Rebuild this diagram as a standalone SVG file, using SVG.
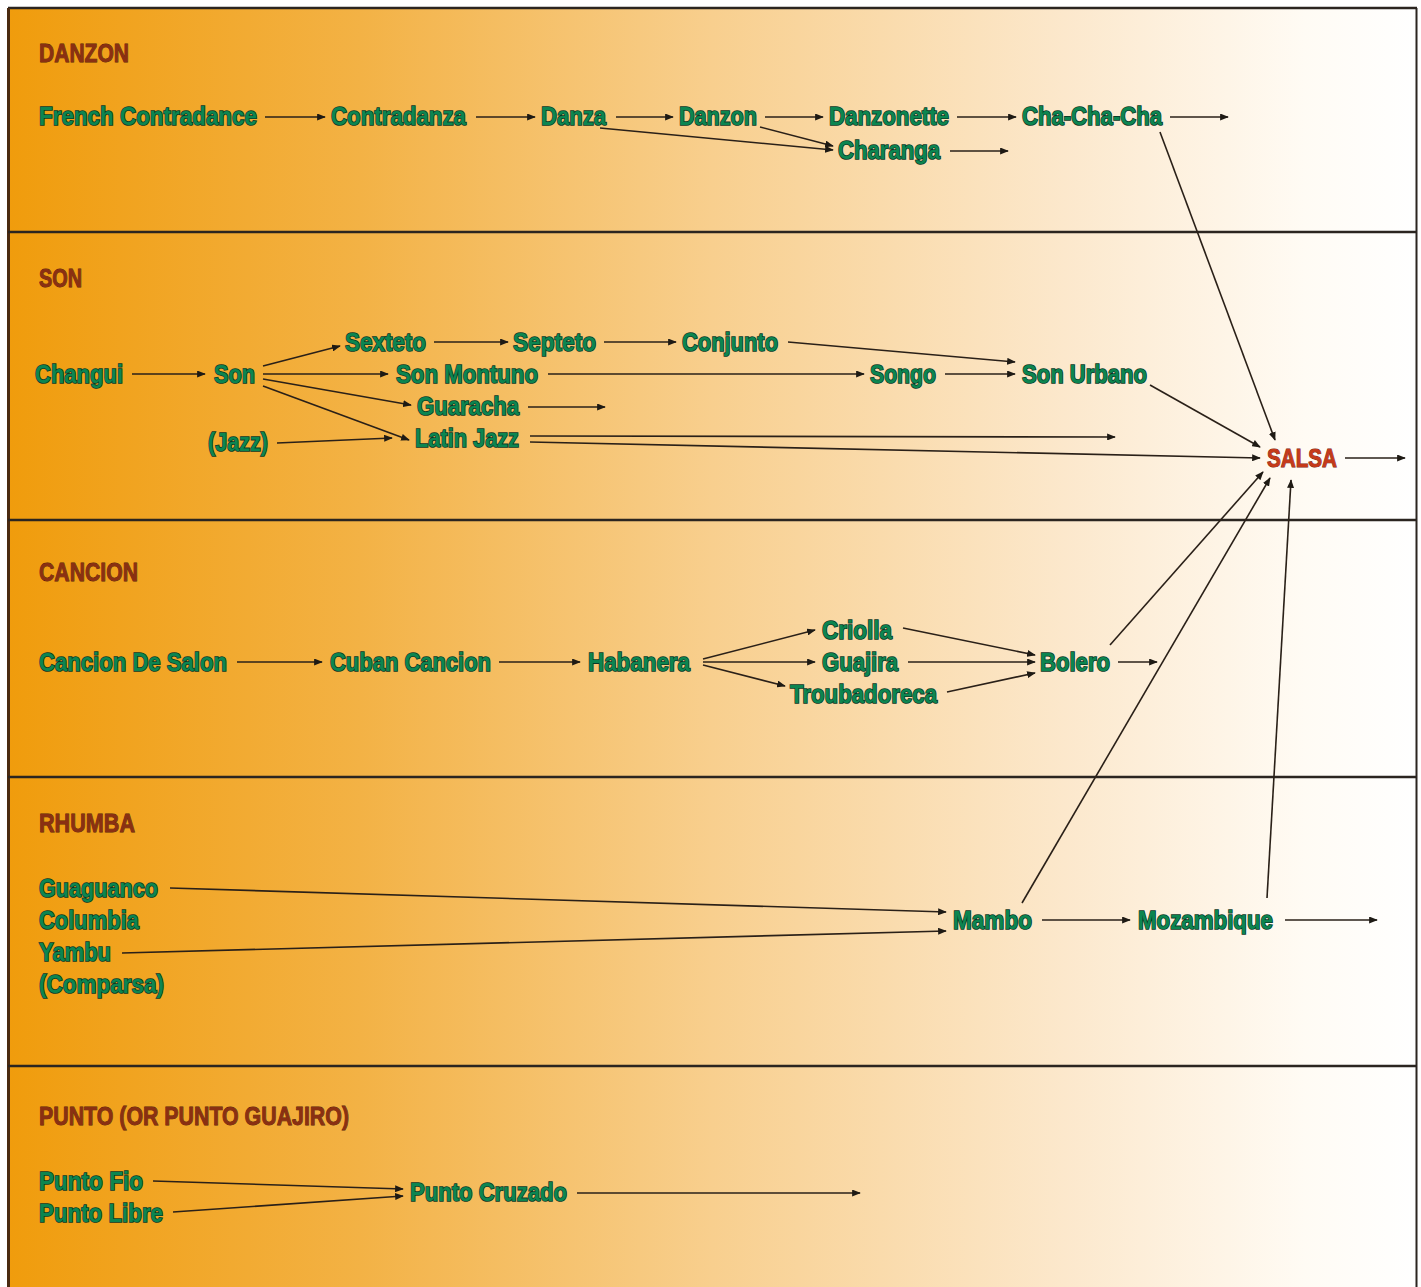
<svg xmlns="http://www.w3.org/2000/svg" width="1421" height="1287" viewBox="0 0 1421 1287">
<defs>
<linearGradient id="bg" x1="0" y1="0" x2="1" y2="0">
<stop offset="0" stop-color="#F09C0C"/>
<stop offset="0.25" stop-color="#F3B245"/>
<stop offset="0.5" stop-color="#F8CF8E"/>
<stop offset="0.75" stop-color="#FCE8CC"/>
<stop offset="0.92" stop-color="#FFFBF4"/>
<stop offset="1" stop-color="#FFFFFF"/>
</linearGradient>
<marker id="ah" viewBox="0 0 10 8" refX="9" refY="4" markerWidth="9" markerHeight="7" markerUnits="userSpaceOnUse" orient="auto">
<path d="M0,0 L10,4 L0,8 z" fill="#1e1a14"/>
</marker>
<style>
.n{font-family:"Liberation Sans","Arial",sans-serif;font-weight:bold;font-size:26px;fill:#0C8550;stroke:#0A3826;stroke-width:1.6px;paint-order:stroke;}
.h{font-family:"Liberation Sans","Arial",sans-serif;font-weight:bold;font-size:25px;fill:#8A3012;stroke:#561c08;stroke-width:0.8px;paint-order:stroke;}
.s{font-family:"Liberation Sans","Arial",sans-serif;font-weight:bold;font-size:26px;fill:#C53A1A;stroke:#7a2410;stroke-width:1px;paint-order:stroke;}
.c{fill:none;stroke:#2a2018;stroke-width:1.6;marker-end:url(#ah);}
.sep{stroke:#2b2520;stroke-width:2.5;}
</style>
</defs>
<rect x="0" y="0" width="1421" height="1287" fill="#FFFFFF"/>
<rect x="8" y="8" width="1409" height="1279" fill="url(#bg)"/>
<g id="frame">
<line x1="8" y1="8" x2="1417" y2="8" stroke="#2b2520" stroke-width="2.5"/>
<line x1="8.5" y1="8" x2="8.5" y2="1287" stroke="#4a2a10" stroke-width="3"/>
<line x1="1416.5" y1="8" x2="1416.5" y2="1287" stroke="#2b2520" stroke-width="2"/>
<line class="sep" x1="8" y1="232" x2="1417" y2="232"/>
<line class="sep" x1="8" y1="520" x2="1417" y2="520"/>
<line class="sep" x1="8" y1="777" x2="1417" y2="777"/>
<line class="sep" x1="8" y1="1066" x2="1417" y2="1066"/>
</g>
<g id="headers">
<text class="h" x="39" y="62" textLength="90" lengthAdjust="spacingAndGlyphs">DANZON</text>
<text class="h" x="39" y="287" textLength="43" lengthAdjust="spacingAndGlyphs">SON</text>
<text class="h" x="39" y="581" textLength="99" lengthAdjust="spacingAndGlyphs">CANCION</text>
<text class="h" x="39" y="832" textLength="96" lengthAdjust="spacingAndGlyphs">RHUMBA</text>
<text class="h" x="39" y="1125" textLength="310" lengthAdjust="spacingAndGlyphs">PUNTO (OR PUNTO GUAJIRO)</text>
</g>
<g id="connectors">
<line class="c" x1="265" y1="117" x2="325" y2="117"/>
<line class="c" x1="476" y1="117" x2="535" y2="117"/>
<line class="c" x1="616" y1="117" x2="673" y2="117"/>
<line class="c" x1="765" y1="117" x2="823" y2="117"/>
<line class="c" x1="957" y1="117" x2="1016" y2="117"/>
<line class="c" x1="1170" y1="117" x2="1228" y2="117"/>
<line class="c" x1="600" y1="128" x2="833" y2="150"/>
<line class="c" x1="760" y1="127" x2="833" y2="146"/>
<line class="c" x1="950" y1="151" x2="1008" y2="151"/>
<line class="c" x1="1160" y1="132" x2="1275" y2="440"/>
<line class="c" x1="132" y1="374" x2="205" y2="374"/>
<line class="c" x1="263" y1="366" x2="340" y2="346"/>
<line class="c" x1="263" y1="374" x2="388" y2="374"/>
<line class="c" x1="263" y1="379" x2="411" y2="405"/>
<line class="c" x1="263" y1="386" x2="409" y2="440"/>
<line class="c" x1="277" y1="443" x2="392" y2="438"/>
<line class="c" x1="434" y1="342" x2="508" y2="342"/>
<line class="c" x1="604" y1="342" x2="676" y2="342"/>
<line class="c" x1="788" y1="342" x2="1015" y2="362"/>
<line class="c" x1="548" y1="374" x2="864" y2="374"/>
<line class="c" x1="945" y1="374" x2="1015" y2="374"/>
<line class="c" x1="528" y1="407" x2="605" y2="407"/>
<line class="c" x1="530" y1="436" x2="1115" y2="437"/>
<line class="c" x1="530" y1="442" x2="1260" y2="458"/>
<line class="c" x1="1150" y1="385" x2="1260" y2="447"/>
<line class="c" x1="1345" y1="458" x2="1405" y2="458"/>
<line class="c" x1="237" y1="662" x2="322" y2="662"/>
<line class="c" x1="499" y1="662" x2="580" y2="662"/>
<line class="c" x1="703" y1="659" x2="815" y2="630"/>
<line class="c" x1="703" y1="662" x2="815" y2="662"/>
<line class="c" x1="703" y1="665" x2="785" y2="686"/>
<line class="c" x1="903" y1="628" x2="1035" y2="655"/>
<line class="c" x1="908" y1="662" x2="1035" y2="662"/>
<line class="c" x1="947" y1="692" x2="1035" y2="673"/>
<line class="c" x1="1118" y1="662" x2="1157" y2="662"/>
<line class="c" x1="1110" y1="645" x2="1263" y2="472"/>
<line class="c" x1="170" y1="888" x2="946" y2="912"/>
<line class="c" x1="122" y1="953" x2="946" y2="931"/>
<line class="c" x1="1042" y1="920" x2="1130" y2="920"/>
<line class="c" x1="1285" y1="920" x2="1377" y2="920"/>
<line class="c" x1="1022" y1="903" x2="1270" y2="478"/>
<line class="c" x1="1267" y1="898" x2="1291" y2="480"/>
<line class="c" x1="153" y1="1181" x2="403" y2="1189"/>
<line class="c" x1="173" y1="1212" x2="403" y2="1196"/>
<line class="c" x1="577" y1="1193" x2="860" y2="1193"/>
</g>
<g id="n-french-contradance"><text class="n" x="39" y="125" textLength="218" lengthAdjust="spacingAndGlyphs">French Contradance</text></g>
<g id="n-contradanza"><text class="n" x="331" y="125" textLength="135" lengthAdjust="spacingAndGlyphs">Contradanza</text></g>
<g id="n-danza"><text class="n" x="541" y="125" textLength="65" lengthAdjust="spacingAndGlyphs">Danza</text></g>
<g id="n-danzon"><text class="n" x="679" y="125" textLength="78" lengthAdjust="spacingAndGlyphs">Danzon</text></g>
<g id="n-danzonette"><text class="n" x="829" y="125" textLength="120" lengthAdjust="spacingAndGlyphs">Danzonette</text></g>
<g id="n-cha-cha-cha"><text class="n" x="1022" y="125" textLength="140" lengthAdjust="spacingAndGlyphs">Cha-Cha-Cha</text></g>
<g id="n-charanga"><text class="n" x="838" y="159" textLength="102" lengthAdjust="spacingAndGlyphs">Charanga</text></g>
<g id="n-changui"><text class="n" x="35" y="383" textLength="88" lengthAdjust="spacingAndGlyphs">Changui</text></g>
<g id="n-son"><text class="n" x="214" y="383" textLength="41" lengthAdjust="spacingAndGlyphs">Son</text></g>
<g id="n-sexteto"><text class="n" x="345" y="351" textLength="81" lengthAdjust="spacingAndGlyphs">Sexteto</text></g>
<g id="n-septeto"><text class="n" x="513" y="351" textLength="83" lengthAdjust="spacingAndGlyphs">Septeto</text></g>
<g id="n-conjunto"><text class="n" x="682" y="351" textLength="96" lengthAdjust="spacingAndGlyphs">Conjunto</text></g>
<g id="n-son-montuno"><text class="n" x="396" y="383" textLength="142" lengthAdjust="spacingAndGlyphs">Son Montuno</text></g>
<g id="n-songo"><text class="n" x="870" y="383" textLength="66" lengthAdjust="spacingAndGlyphs">Songo</text></g>
<g id="n-son-urbano"><text class="n" x="1022" y="383" textLength="125" lengthAdjust="spacingAndGlyphs">Son Urbano</text></g>
<g id="n-guaracha"><text class="n" x="417" y="415" textLength="102" lengthAdjust="spacingAndGlyphs">Guaracha</text></g>
<g id="n-jazz"><text class="n" x="208" y="451" textLength="60" lengthAdjust="spacingAndGlyphs">(Jazz)</text></g>
<g id="n-latin-jazz"><text class="n" x="415" y="447" textLength="104" lengthAdjust="spacingAndGlyphs">Latin Jazz</text></g>
<g id="n-salsa"><text class="s" x="1267" y="467" textLength="70" lengthAdjust="spacingAndGlyphs">SALSA</text></g>
<g id="n-cancion-de-salon"><text class="n" x="39" y="671" textLength="188" lengthAdjust="spacingAndGlyphs">Cancion De Salon</text></g>
<g id="n-cuban-cancion"><text class="n" x="330" y="671" textLength="161" lengthAdjust="spacingAndGlyphs">Cuban Cancion</text></g>
<g id="n-habanera"><text class="n" x="588" y="671" textLength="102" lengthAdjust="spacingAndGlyphs">Habanera</text></g>
<g id="n-criolla"><text class="n" x="822" y="639" textLength="70" lengthAdjust="spacingAndGlyphs">Criolla</text></g>
<g id="n-guajira"><text class="n" x="822" y="671" textLength="76" lengthAdjust="spacingAndGlyphs">Guajira</text></g>
<g id="n-troubadoreca"><text class="n" x="790" y="703" textLength="147" lengthAdjust="spacingAndGlyphs">Troubadoreca</text></g>
<g id="n-bolero"><text class="n" x="1040" y="671" textLength="70" lengthAdjust="spacingAndGlyphs">Bolero</text></g>
<g id="n-guaguanco"><text class="n" x="39" y="897" textLength="119" lengthAdjust="spacingAndGlyphs">Guaguanco</text></g>
<g id="n-columbia"><text class="n" x="39" y="929" textLength="100" lengthAdjust="spacingAndGlyphs">Columbia</text></g>
<g id="n-yambu"><text class="n" x="39" y="961" textLength="72" lengthAdjust="spacingAndGlyphs">Yambu</text></g>
<g id="n-comparsa"><text class="n" x="39" y="993" textLength="125" lengthAdjust="spacingAndGlyphs">(Comparsa)</text></g>
<g id="n-mambo"><text class="n" x="953" y="929" textLength="79" lengthAdjust="spacingAndGlyphs">Mambo</text></g>
<g id="n-mozambique"><text class="n" x="1138" y="929" textLength="135" lengthAdjust="spacingAndGlyphs">Mozambique</text></g>
<g id="n-punto-fio"><text class="n" x="39" y="1190" textLength="104" lengthAdjust="spacingAndGlyphs">Punto Fio</text></g>
<g id="n-punto-libre"><text class="n" x="39" y="1222" textLength="124" lengthAdjust="spacingAndGlyphs">Punto Libre</text></g>
<g id="n-punto-cruzado"><text class="n" x="410" y="1201" textLength="157" lengthAdjust="spacingAndGlyphs">Punto Cruzado</text></g>
</svg>
